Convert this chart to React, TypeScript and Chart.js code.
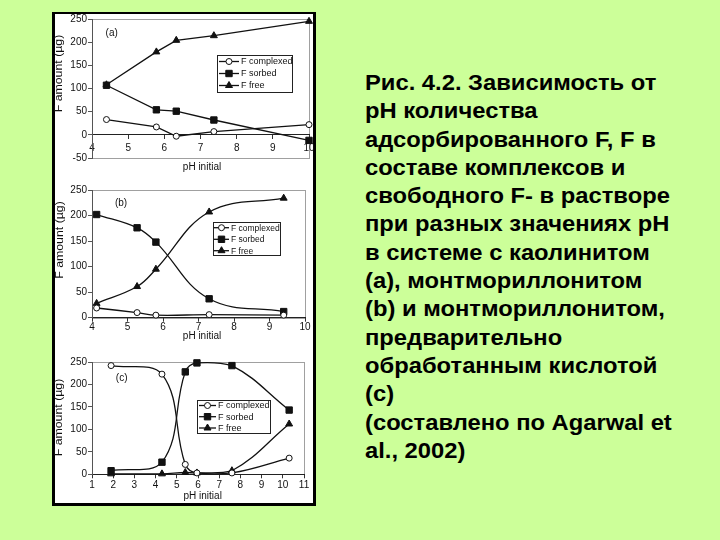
import React, { useEffect, useRef } from "react";
import { Chart, registerables } from "chart.js";

Chart.register(...registerables);

const seriesNames = ["F complexed", "F sorbed", "F free"];
const xTitle = "pH initial";
const yTitle = "F amount (µg)";

// (a) kaolinite
const phA = [4.4, 5.78, 6.33, 7.37, 10.0];
const complexedA = [33, 17, -3, 7, 22];
const sorbedA = [107, 54, 51, 32, -12];
const freeA = [108, 179, 204, 214, 245];

// (b) montmorillonite
const phB = [4.13, 5.27, 5.8, 7.3, 9.4];
const complexedB = [19, 10, 5, 6, 5];
const sorbedB = [202, 176, 148, 37, 12];
const freeB = [28, 61, 95, 207, 234];

// (c) acid-treated montmorillonite
const phC = [1.9, 4.3, 5.4, 5.95, 7.6, 10.3];
const complexedC = [242, 223, 22, 3, 3, 36];
const sorbedC = [8, 27, 228, 248, 242, 143];
const freeC = [1, 1, 4, 3, 8, 112];

const captionLines = [
  "Рис. 4.2. Зависимость от",
  "рН количества",
  "адсорбированного F, F в",
  "составе комплексов и",
  "свободного F- в растворе",
  "при разных значениях рН",
  "в системе с каолинитом",
  "(а), монтмориллонитом",
  "(b) и монтмориллонитом,",
  "предварительно",
  "обработанным кислотой",
  "(с)",
  "(составлено по Agarwal et",
  "al., 2002)",
];

const FONT = "'Liberation Sans', Arial, Helvetica, sans-serif";

type Spec = {
  ph: number[];
  series: number[][];
  tension: number;
  xMin: number;
  xMax: number;
  yMin: number;
  yMax: number;
  axisAtZero: boolean;
  xTickPad: number;
  box: { l: number; t: number; w: number; h: number };
  area: { l: number; t: number; r: number; b: number };
  tag: string;
  tagPos: [number, number];
  yTitlePos: [number, number];
  xTitlePos: [number, number];
  legend: {
    x1: number; y1: number; x2: number; y2: number;
    rows: number[]; lineX1: number; lineX2: number; textX: number; font: number;
  };
};

const specs: Spec[] = [
  {
    ph: phA, series: [complexedA, sorbedA, freeA], tension: 0,
    xMin: 4, xMax: 10, yMin: -50, yMax: 250, axisAtZero: true, xTickPad: 3,
    box: { l: 44, t: 5, w: 276, h: 171 },
    area: { l: 92, t: 19, r: 309, b: 158 },
    tag: "(a)", tagPos: [111.7, 33.3], yTitlePos: [58.5, 73.5], xTitlePos: [202, 167],
    legend: { x1: 217, y1: 55, x2: 292, y2: 92, rows: [61.5, 73.5, 85.5], lineX1: 219, lineX2: 239, textX: 241, font: 9 },
  },
  {
    ph: phB, series: [complexedB, sorbedB, freeB], tension: 0.4,
    xMin: 4, xMax: 10, yMin: 0, yMax: 250, axisAtZero: false, xTickPad: 0,
    box: { l: 44, t: 178, w: 276, h: 167 },
    area: { l: 92, t: 190, r: 305, b: 317.7 },
    tag: "(b)", tagPos: [121, 203], yTitlePos: [59.5, 240], xTitlePos: [202, 336.7],
    legend: { x1: 213, y1: 221.7, x2: 280, y2: 255, rows: [227.7, 239.3, 250.7], lineX1: 214, lineX2: 229, textX: 231, font: 8.5 },
  },
  {
    ph: phC, series: [complexedC, sorbedC, freeC], tension: 0.4,
    xMin: 1, xMax: 11, yMin: 0, yMax: 250, axisAtZero: false, xTickPad: 1,
    box: { l: 44, t: 350, w: 276, h: 155 },
    area: { l: 92, t: 362, r: 304, b: 474.3 },
    tag: "(c)", tagPos: [121.7, 378.3], yTitlePos: [59, 417.5], xTitlePos: [202.7, 496],
    legend: { x1: 196.7, y1: 400, x2: 270, y2: 433.3, rows: [405.5, 416.7, 428], lineX1: 199, lineX2: 216, textX: 218, font: 9 },
  },
];

const pointStyles = ["circle", "rect", "triangle"];
const pointRadii = [3, 4.5, 4];
const pointFills = ["#ffffff", "#111111", "#111111"];

function drawMarker(ctx: CanvasRenderingContext2D, kind: number, x: number, y: number) {
  ctx.save();
  ctx.lineWidth = 1;
  ctx.strokeStyle = "#111";
  ctx.fillStyle = pointFills[kind];
  ctx.beginPath();
  if (kind === 0) {
    ctx.arc(x, y, 3, 0, Math.PI * 2);
  } else if (kind === 1) {
    ctx.rect(x - 3.2, y - 3.2, 6.4, 6.4);
  } else {
    ctx.moveTo(x, y - 4);
    ctx.lineTo(x + 3.5, y + 2);
    ctx.lineTo(x - 3.5, y + 2);
    ctx.closePath();
  }
  ctx.fill();
  ctx.stroke();
  ctx.restore();
}

function makeChart(canvas: HTMLCanvasElement, s: Spec) {
  const Y_W = 40;
  const X_H = s.axisAtZero ? 0 : 16;
  const padding = {
    left: s.area.l - s.box.l - Y_W,
    top: s.area.t - s.box.t,
    right: s.box.l + s.box.w - s.area.r,
    bottom: s.box.t + s.box.h - s.area.b - X_H,
  };
  const ox = s.box.l;
  const oy = s.box.t;

  const deco = {
    id: "deco",
    beforeDraw(chart: any) {
      const { ctx, chartArea: a } = chart;
      ctx.save();
      ctx.strokeStyle = "#a0a0a0";
      ctx.lineWidth = 1;
      ctx.strokeRect(Math.round(a.left) + 0.5, Math.round(a.top) + 0.5, Math.round(a.right - a.left), Math.round(a.bottom - a.top));
      ctx.restore();
    },
    afterDraw(chart: any) {
      const ctx: CanvasRenderingContext2D = chart.ctx;
      ctx.save();
      ctx.fillStyle = "#111";
      ctx.font = `10px ${FONT}`;
      ctx.textAlign = "center";
      ctx.textBaseline = "middle";
      ctx.fillText(s.tag, s.tagPos[0] - ox, s.tagPos[1] - oy);
      ctx.fillText(xTitle, s.xTitlePos[0] - ox, s.xTitlePos[1] - oy);
      ctx.save();
      ctx.translate(s.yTitlePos[0] - ox, s.yTitlePos[1] - oy);
      ctx.rotate(-Math.PI / 2);
      ctx.scale(1.12, 1);
      ctx.font = `11px ${FONT}`;
      ctx.fillText(yTitle, 0, 0);
      ctx.restore();
      const L = s.legend;
      ctx.fillStyle = "#ffffff";
      ctx.fillRect(L.x1 - ox, L.y1 - oy, L.x2 - L.x1, L.y2 - L.y1);
      ctx.strokeStyle = "#222";
      ctx.lineWidth = 1;
      ctx.strokeRect(Math.round(L.x1 - ox) + 0.5, Math.round(L.y1 - oy) + 0.5, Math.round(L.x2 - L.x1), Math.round(L.y2 - L.y1));
      seriesNames.forEach((name, i) => {
        const y = L.rows[i] - oy;
        ctx.beginPath();
        ctx.strokeStyle = "#111";
        ctx.lineWidth = 1.3;
        ctx.moveTo(L.lineX1 - ox, y);
        ctx.lineTo(L.lineX2 - ox, y);
        ctx.stroke();
        drawMarker(ctx, i, (L.lineX1 + L.lineX2) / 2 - ox, y);
        ctx.fillStyle = "#111";
        ctx.font = `${L.font}px ${FONT}`;
        ctx.textAlign = "left";
        ctx.textBaseline = "middle";
        ctx.fillText(name, L.textX - ox, y + 0.5);
      });
      ctx.restore();
    },
  };

  const datasets = s.series.map((vals, i) => ({
    label: seriesNames[i],
    data: s.ph.map((x, j) => ({ x, y: vals[j] })),
    borderColor: "#111",
    borderWidth: 1.3,
    backgroundColor: pointFills[i],
    pointStyle: pointStyles[i],
    pointRadius: pointRadii[i],
    pointBackgroundColor: pointFills[i],
    pointBorderColor: "#111",
    pointBorderWidth: 1,
    tension: s.tension,
    clip: false as any,
    fill: false,
  }));

  return new Chart(canvas, {
    type: "line",
    data: { datasets },
    plugins: [deco],
    options: {
      responsive: false,
      animation: false,
      devicePixelRatio: 1,
      layout: { padding },
      plugins: { legend: { display: false }, tooltip: { enabled: false } },
      scales: {
        x: {
          type: "linear",
          min: s.xMin,
          max: s.xMax,
          position: s.axisAtZero ? ({ y: 0 } as any) : "bottom",
          afterFit: (sc: any) => { sc.height = X_H; },
          ticks: { stepSize: 1, color: "#111", font: { family: FONT, size: 10 }, padding: s.xTickPad, maxRotation: 0 },
          grid: { display: true, drawOnChartArea: false, drawTicks: true, tickLength: 4, color: "#333" },
          border: { display: true, color: "#222", width: 1 },
        },
        y: {
          type: "linear",
          min: s.yMin,
          max: s.yMax,
          position: "left",
          afterFit: (sc: any) => { sc.width = Y_W; },
          ticks: { stepSize: 50, color: "#111", font: { family: FONT, size: 10 }, padding: 1 },
          grid: { display: true, drawOnChartArea: false, drawTicks: true, tickLength: 4, color: "#555" },
          border: { display: true, color: "#555", width: 1 },
        },
      },
    },
  } as any);
}

function SubChart({ spec }: { spec: Spec }) {
  const ref = useRef<HTMLCanvasElement | null>(null);
  useEffect(() => {
    if (!ref.current) return;
    const chart = makeChart(ref.current, spec);
    return () => chart.destroy();
  }, [spec]);
  return (
    <canvas
      ref={ref}
      width={spec.box.w}
      height={spec.box.h}
      style={{ position: "absolute", left: spec.box.l, top: spec.box.t, width: spec.box.w, height: spec.box.h }}
    />
  );
}

export default function App() {
  return (
    <div
      style={{
        position: "absolute",
        left: 0,
        top: 0,
        width: 720,
        height: 540,
        background: "#ccff99",
        overflow: "hidden",
      }}
    >
      <div
        style={{
          position: "absolute",
          left: 52,
          top: 12,
          width: 264,
          height: 494,
          boxSizing: "border-box",
          background: "#ffffff",
          borderStyle: "solid",
          borderColor: "#000",
          borderWidth: "2px 3px 3px 3px",
        }}
      />
      {specs.map((s, i) => (
        <SubChart key={i} spec={s} />
      ))}
      <div
        style={{
          position: "absolute",
          left: 365,
          top: 69,
          width: 350,
          fontFamily: FONT,
          fontWeight: "bold",
          fontSize: 22,
          lineHeight: "28.3px",
          color: "#000",
          whiteSpace: "pre",
          transform: "scaleX(1.08)",
          transformOrigin: "left top",
        }}
      >
        {captionLines.map((l, i) => (
          <div key={i}>{l}</div>
        ))}
      </div>
    </div>
  );
}
